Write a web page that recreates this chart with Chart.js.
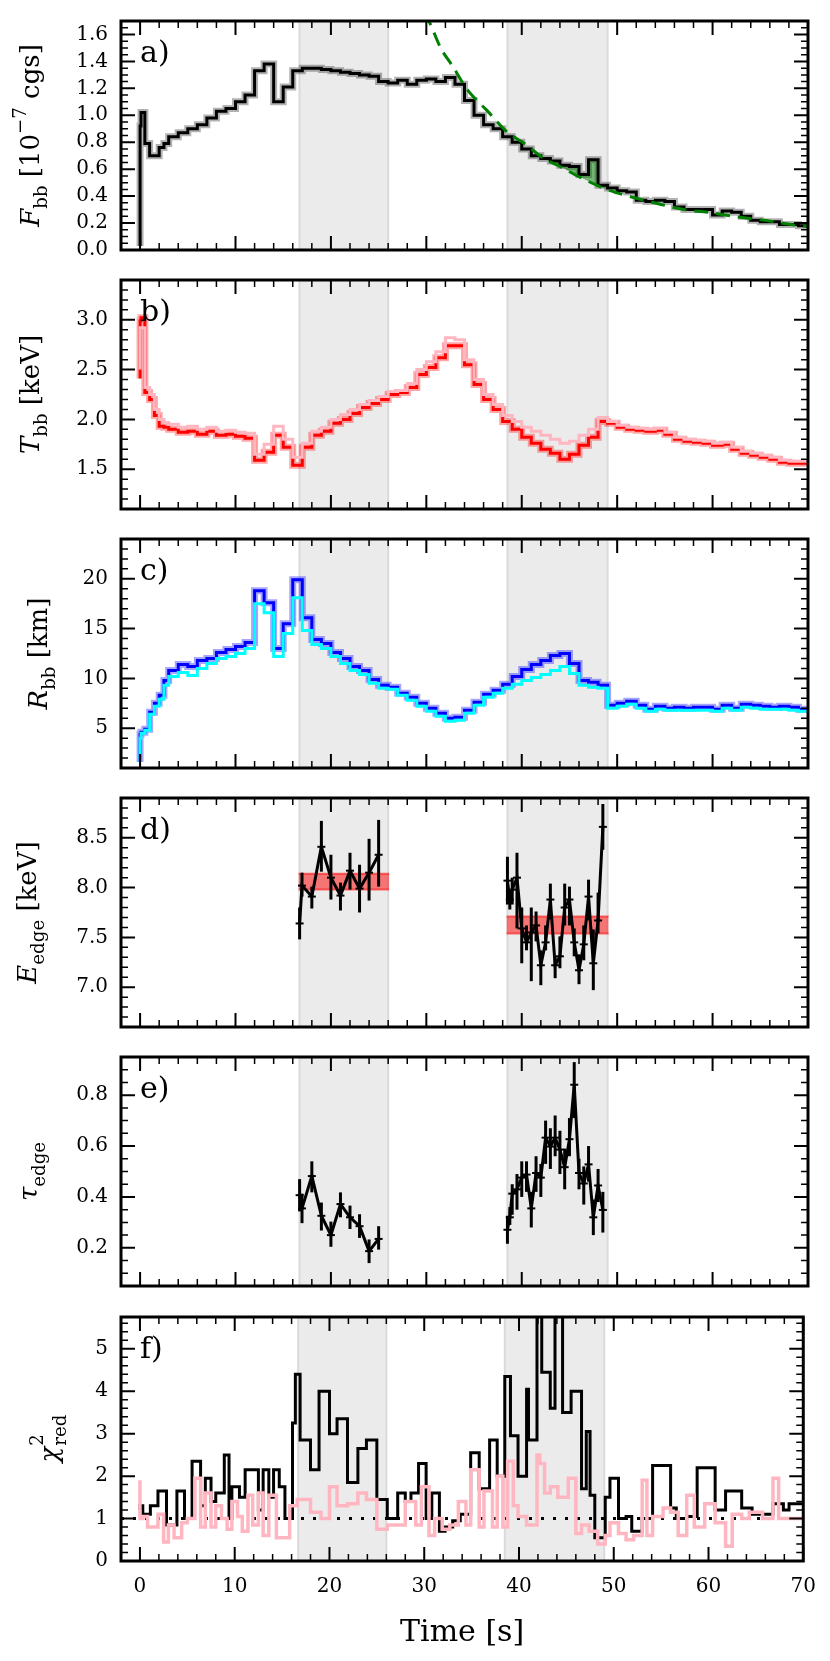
<!DOCTYPE html>
<html>
<head>
<meta charset="utf-8">
<script src="https://cdn.jsdelivr.net/npm/chart.js@4.4.1/dist/chart.umd.min.js"></script>
<style>
  body { margin: 0; background: #fff; }
  #wrap { position: relative; width: 830px; height: 1661px; overflow: hidden; }
  canvas { position: absolute; left: 0; }
</style>
</head>
<body>
<div id="wrap"></div>
<script>
// ---- data ----
const tGrid = [0, 0.1, 0.5, 1, 1.5, 2, 2.5, 3, 4, 5, 6, 7, 8, 9, 10, 11, 12, 13, 14, 15, 16, 17, 18, 19, 20,
  21, 22, 23, 24, 25, 26, 27, 28, 29, 30, 31, 32, 33, 34, 35, 36, 37, 38, 39, 40, 41, 42, 43, 44, 45, 46, 47,
  48, 49, 50, 51, 52, 53, 54, 55, 56, 57, 58, 59, 60, 61, 62, 63, 64, 65, 66, 67, 68, 69, 70];

const fluxBB = [0.03, 0.92, 1.02, 0.79, 0.70, 0.70, 0.76, 0.79, 0.84, 0.87, 0.90, 0.93, 0.98, 1.03, 1.05,
  1.10, 1.15, 1.33, 1.38, 1.10, 1.21, 1.33, 1.35, 1.35, 1.34, 1.33, 1.32, 1.31, 1.30, 1.29, 1.25, 1.24, 1.26,
  1.23, 1.26, 1.27, 1.25, 1.28, 1.23, 1.11, 1.00, 0.93, 0.90, 0.84, 0.80, 0.75, 0.70, 0.68, 0.66, 0.63, 0.62,
  0.56, 0.67, 0.48, 0.46, 0.44, 0.43, 0.37, 0.36, 0.37, 0.36, 0.32, 0.30, 0.30, 0.30, 0.26, 0.29, 0.28, 0.25,
  0.22, 0.21, 0.21, 0.19, 0.19, 0.18];

const fitT = [29.8, 30.4, 31.5, 32.8, 34.2, 35.3, 36.3, 38.4, 40.5, 42.3, 44.0, 46.1, 48.9, 51.7, 54.5, 57.0, 59.5, 62.2, 65.5, 69.2, 70];
const fitF = [1.76, 1.68, 1.50, 1.36, 1.20, 1.11, 1.04, 0.88, 0.78, 0.68, 0.62, 0.54, 0.45, 0.39, 0.34, 0.30, 0.28, 0.25, 0.22, 0.18, 0.175];

const tempBB = [2.41, 2.99, 3.02, 2.27, 2.20, 2.04, 1.93, 1.92, 1.90, 1.87, 1.88, 1.85, 1.88, 1.84, 1.85,
  1.83, 1.81, 1.59, 1.67, 1.84, 1.72, 1.54, 1.72, 1.84, 1.88, 1.96, 2.00, 2.06, 2.12, 2.16, 2.20, 2.25, 2.27,
  2.32, 2.45, 2.52, 2.62, 2.74, 2.74, 2.55, 2.35, 2.20, 2.10, 1.98, 1.90, 1.82, 1.76, 1.70, 1.66, 1.60, 1.65,
  1.74, 1.82, 1.98, 1.96, 1.92, 1.90, 1.89, 1.88, 1.89, 1.85, 1.80, 1.78, 1.77, 1.76, 1.74, 1.75, 1.70, 1.66,
  1.64, 1.62, 1.60, 1.57, 1.56, 1.56];
const tempBBalt = [2.50, 2.92, 2.92, 2.32, 2.25, 2.10, 2.00, 1.97, 1.95, 1.92, 1.93, 1.90, 1.92, 1.88, 1.89,
  1.87, 1.86, 1.65, 1.75, 1.93, 1.80, 1.62, 1.76, 1.88, 1.92, 2.00, 2.05, 2.10, 2.15, 2.19, 2.23, 2.28, 2.29,
  2.36, 2.50, 2.58, 2.68, 2.82, 2.80, 2.60, 2.40, 2.25, 2.15, 2.04, 1.98, 1.92, 1.88, 1.84, 1.80, 1.76, 1.78,
  1.84, 1.90, 2.02, 1.98, 1.94, 1.92, 1.91, 1.90, 1.91, 1.87, 1.82, 1.80, 1.79, 1.78, 1.76, 1.77, 1.72, 1.68,
  1.66, 1.64, 1.62, 1.59, 1.58, 1.58];

const radBB = [1.6, 4.4, 4.6, 4.9, 6.6, 7.5, 8.3, 9.8, 10.8, 11.4, 11.2, 11.8, 12.0, 12.6, 12.9, 13.2, 13.6,
  18.8, 17.6, 13.0, 15.5, 19.9, 16.1, 13.9, 13.5, 12.6, 12.0, 11.2, 10.8, 9.9, 9.3, 9.1, 8.5, 8.1, 7.5, 7.0,
  6.5, 6.0, 6.1, 6.8, 7.6, 8.4, 8.8, 9.4, 10.2, 10.9, 11.4, 11.8, 12.3, 12.5, 11.5, 9.8, 9.6, 9.3, 7.3, 7.5,
  7.7, 7.3, 6.9, 7.2, 7.0, 7.1, 7.0, 7.1, 7.1, 6.9, 7.3, 7.0, 7.4, 7.3, 7.2, 7.1, 7.2, 7.1, 6.9];
const radBBalt = [1.6, 4.0, 4.5, 4.8, 6.4, 7.2, 7.9, 9.3, 10.2, 10.6, 10.3, 11.0, 11.5, 12.0, 12.2, 12.5,
  13.0, 17.5, 16.6, 12.2, 14.5, 18.1, 14.8, 13.4, 13.0, 12.2, 11.5, 10.8, 10.4, 9.5, 9.0, 8.9, 8.3, 7.8, 7.2,
  6.7, 6.2, 5.7, 5.8, 6.5, 7.3, 8.1, 8.5, 9.0, 9.4, 9.8, 10.1, 10.4, 10.8, 11.2, 10.5, 9.3, 9.1, 9.0, 7.0,
  7.2, 7.4, 7.0, 6.7, 6.9, 6.8, 6.8, 6.8, 6.8, 6.8, 6.7, 7.0, 6.8, 7.1, 7.0, 6.9, 6.9, 6.9, 6.8, 6.7];

const edgeTimesA = [16.72, 16.97, 18.0, 19.0, 20.0, 21.0, 22.0, 23.0, 24.0, 25.0];
const edgeTimesB = [38.5, 38.75, 39.0, 39.5, 40.0, 40.5, 41.0, 41.5, 42.0, 42.5, 43.0, 43.5, 44.0, 44.5,
  45.0, 45.5, 46.0, 46.5, 47.0, 47.5, 48.0, 48.5];

const eEdgeA = [7.64, 8.02, 7.91, 8.41, 8.10, 7.92, 8.17, 7.99, 8.15, 8.33];
const eEdgeALo = [7.48, 7.91, 7.79, 8.16, 7.88, 7.77, 7.98, 7.75, 7.87, 8.01];
const eEdgeAHi = [7.80, 8.15, 8.01, 8.67, 8.33, 8.05, 8.35, 8.23, 8.49, 8.68];
const eEdgeB = [8.07, 7.88, 7.98, 8.10, 7.59, 7.45, 7.55, 7.62, 7.22, 7.45, 7.88, 7.22, 7.31, 7.80, 7.88,
  7.45, 7.17, 7.43, 7.91, 7.24, 7.67, 8.61];
const eEdgeBLo = [7.83, 7.78, 7.83, 7.59, 7.24, 7.37, 7.06, 7.46, 7.02, 7.37, 7.68, 7.09, 7.19, 7.62, 7.62,
  7.31, 7.03, 7.27, 7.67, 6.97, 7.54, 8.38];
const eEdgeBHi = [8.31, 7.98, 8.10, 8.35, 7.80, 7.62, 7.80, 7.76, 7.37, 7.62, 8.04, 7.31, 7.51, 8.04, 8.01,
  7.59, 7.33, 7.62, 8.08, 7.58, 7.95, 8.84];

const bandStart = [16.6, 38.4];
const bandEnd = [26.1, 49.1];
const bandLo = [7.98, 7.54];
const bandHi = [8.14, 7.71];

const tauA = [0.407, 0.355, 0.482, 0.326, 0.250, 0.372, 0.320, 0.285, 0.187, 0.235];
const tauALo = [0.343, 0.297, 0.418, 0.268, 0.204, 0.320, 0.274, 0.239, 0.140, 0.193];
const tauAHi = [0.470, 0.413, 0.540, 0.378, 0.303, 0.418, 0.366, 0.332, 0.233, 0.285];
const tauB = [0.271, 0.320, 0.413, 0.430, 0.476, 0.488, 0.355, 0.494, 0.476, 0.633, 0.598, 0.633, 0.586,
  0.517, 0.627, 0.841, 0.494, 0.453, 0.528, 0.320, 0.445, 0.349];
const tauBLo = [0.216, 0.290, 0.330, 0.350, 0.400, 0.420, 0.280, 0.420, 0.400, 0.530, 0.510, 0.560, 0.490,
  0.430, 0.560, 0.710, 0.430, 0.370, 0.460, 0.250, 0.380, 0.260];
const tauBHi = [0.326, 0.360, 0.450, 0.490, 0.540, 0.540, 0.420, 0.560, 0.530, 0.700, 0.670, 0.720, 0.660,
  0.590, 0.710, 0.930, 0.550, 0.520, 0.600, 0.390, 0.510, 0.420];

const chiT = [0, 0.3, 1.1, 1.9, 2.8, 3.9, 4.7, 5.5, 6.4, 6.9, 7.5, 8.0, 8.9, 9.4, 9.7, 10.5, 11.1, 12.5, 13.0,
  13.6, 14.1, 14.7, 15.3, 16.1, 16.4, 16.9, 18.0, 18.9, 20.0, 20.8, 21.9, 23.0, 23.9, 25.0, 26.1, 27.2, 28.0,
  28.6, 29.4, 30.2, 30.8, 31.6, 32.2, 33.0, 33.8, 34.9, 35.8, 36.9, 37.7, 38.5, 39.1, 39.9, 40.8, 41.0, 41.9,
  42.4, 43.3, 43.8, 44.6, 45.5, 46.6, 47.1, 47.5, 48.0, 49.1, 49.6, 50.5, 51.3, 51.9, 53.0, 54.1, 56.0, 56.6,
  57.7, 58.8, 60.7, 61.8, 63.5, 64.6, 66.8, 67.9, 68.5, 69.3, 70.0];
const chi = [1.2, 1.3, 1.1, 1.3, 1.65, 0.85, 1.65, 1.0, 2.35, 1.3, 1.95, 1.4, 1.6, 2.5, 1.0, 1.75, 1.5, 2.15,
  1.2, 2.15, 1.5, 2.15, 1.75, 1.0, 3.25, 4.4, 2.85, 2.15, 4.0, 3.0, 3.35, 1.85, 2.65, 2.85, 1.45, 1.0, 1.6, 1.4,
  1.6, 2.3, 1.0, 1.6, 0.7, 0.8, 0.95, 1.1, 2.55, 1.7, 2.85, 2.0, 4.35, 2.95, 2.0, 4.05, 2.85, 6.0, 4.45, 3.6,
  6.0, 3.5, 4.0, 1.7, 3.05, 1.55, 0.55, 1.5, 1.95, 1.0, 1.05, 0.7, 1.0, 2.25, 1.25, 1.0, 1.05, 2.2, 1.2, 1.65,
  1.25, 1.1, 1.35, 1.2, 1.35, 1.35];
const chiAltT = [0, 0.3, 0.8, 1.9, 2.5, 3.0, 3.6, 4.4, 5.0, 5.8, 6.4, 6.9, 7.5, 8.0, 8.6, 9.2, 9.7, 10.3, 10.8,
  11.4, 11.9, 12.5, 13.0, 13.6, 14.4, 15.8, 16.6, 18.0, 19.1, 20.0, 20.8, 21.9, 23.0, 23.9, 25.0, 26.1, 28.0,
  29.1, 29.7, 30.5, 31.1, 31.9, 32.7, 33.6, 34.4, 34.9, 35.8, 36.3, 37.2, 37.7, 38.3, 38.8, 39.4, 39.9, 40.8,
  41.9, 42.2, 42.7, 43.3, 44.1, 45.2, 46.0, 46.6, 47.4, 48.3, 49.1, 49.6, 50.5, 51.3, 52.1, 53.0, 53.5, 54.1,
  55.2, 56.0, 56.8, 57.7, 58.5, 59.6, 60.7, 61.8, 62.5, 63.5, 64.3, 65.7, 66.8, 67.4, 68.5, 70.0];
const chiAlt = [1.9, 1.0, 1.05, 0.8, 1.1, 0.45, 0.85, 0.55, 0.9, 1.0, 1.95, 0.8, 1.6, 0.8, 1.3, 1.0, 0.75, 1.4,
  1.05, 0.7, 1.55, 0.85, 1.6, 0.6, 1.55, 0.55, 1.3, 1.45, 1.15, 1.0, 1.75, 1.3, 1.35, 1.6, 1.45, 0.75, 0.85,
  1.4, 0.85, 1.75, 0.6, 1.0, 0.75, 0.85, 1.4, 0.85, 2.15, 0.8, 1.65, 0.8, 2.0, 0.8, 2.35, 1.3, 1.05, 0.85, 2.5,
  2.3, 1.6, 1.75, 1.5, 1.95, 0.65, 0.85, 0.7, 0.4, 0.6, 0.9, 0.65, 0.5, 0.6, 1.9, 0.6, 1.05, 1.25, 1.15, 0.6,
  1.55, 0.8, 1.35, 0.9, 0.35, 1.1, 1.0, 1.15, 1.0, 1.95, 1.0, 1.0];
const chiRefT = [-2, 70];
const chiRef = [1, 1];

const spanStart = [16.7, 38.5];
const spanEnd = [26.0, 49.0];

const xTicks = [0, 10, 20, 30, 40, 50, 60, 70];
const yTicksA = [0, 0.2, 0.4, 0.6, 0.8, 1.0, 1.2, 1.4, 1.6];
const yTicksB = [1.5, 2.0, 2.5, 3.0];
const yTicksC = [5, 10, 15, 20];
const yTicksD = [7.0, 7.5, 8.0, 8.5];
const yTicksE = [0.2, 0.4, 0.6, 0.8];
const yTicksF = [0, 1, 2, 3, 4, 5];

// ---- layout ----
const PLOT_L = 121, PLOT_R = 808, PANEL_H = 259;
const panelTop = [6, 265, 524, 783, 1042, 1302];
const FONT = '"DejaVu Serif", serif';
Chart.defaults.font.family = FONT;
Chart.defaults.color = '#000';

function pts(xs, ys) { return xs.map((x, i) => ({x: x, y: ys[i]})); }

// rotated axis title with sub/superscripts
function drawMath(ctx, parts, bx, cy, size) {
  ctx.save();
  ctx.translate(bx, cy);
  ctx.rotate(-Math.PI / 2);
  ctx.textBaseline = 'alphabetic';
  ctx.textAlign = 'left';
  ctx.fillStyle = '#000';
  const fnt = (it, s) => (it ? 'italic ' : '') + s + 'px ' + FONT;
  let total = 0;
  const items = parts.map(p => {
    if (p.stack) {
      ctx.font = fnt(false, size * 0.7);
      const w = Math.max(...p.stack.map(s => ctx.measureText(s).width));
      total += w;
      return {p: p, w: w};
    }
    const s = (p.sub || p.sup) ? size * 0.7 : size;
    ctx.font = fnt(p.it, s);
    const w = ctx.measureText(p.t).width;
    total += w;
    return {p: p, w: w, s: s};
  });
  let x = -total / 2;
  items.forEach(it => {
    const p = it.p;
    if (p.stack) {
      ctx.font = fnt(false, size * 0.7);
      ctx.fillText(p.stack[0], x + 1, -size * 0.58);
      ctx.fillText(p.stack[1], x + 1, size * 0.3);
    } else {
      ctx.font = fnt(p.it, it.s);
      const dy = p.sub ? size * 0.3 : (p.sup ? -size * 0.5 : 0);
      ctx.fillText(p.t, x, dy);
    }
    x += it.w;
  });
  ctx.restore();
}

const panelPlugin = {
  id: 'panel',
  beforeDatasetsDraw(chart) {
    const {ctx, chartArea: a, scales: {x}} = chart;
    ctx.save();
    spanStart.forEach((s, i) => {
      const x0 = x.getPixelForValue(s), x1 = x.getPixelForValue(spanEnd[i]);
      ctx.fillStyle = '#ebebeb';
      ctx.fillRect(x0, a.top, x1 - x0, a.bottom - a.top);
      ctx.strokeStyle = '#dadada';
      ctx.lineWidth = 2;
      [x0, x1].forEach(px => {
        ctx.beginPath(); ctx.moveTo(px, a.top); ctx.lineTo(px, a.bottom); ctx.stroke();
      });
    });
    ctx.restore();
  },
  afterDatasetsDraw(chart) {
    const cfg = chart.canvas.$panel;
    const {ctx, scales: {y}} = chart;
    ctx.save();
    (cfg.errors || []).forEach(e => {
      const meta = chart.getDatasetMeta(e.ds);
      ctx.strokeStyle = '#000';
      ctx.lineWidth = 3;
      meta.data.forEach((p, j) => {
        ctx.beginPath();
        ctx.moveTo(p.x, y.getPixelForValue(e.lo[j]));
        ctx.lineTo(p.x, y.getPixelForValue(e.hi[j]));
        ctx.stroke();
      });
    });
    ctx.restore();
  },
  afterDraw(chart) {
    const cfg = chart.canvas.$panel;
    const {ctx, chartArea: a, scales: {x, y}} = chart;
    ctx.save();
    ctx.strokeStyle = '#000';
    // x ticks, top and bottom, pointing in
    for (let v = -2; v <= 70; v += 2) {
      const major = xTicks.includes(v);
      const len = major ? 14 : 7;
      const px = x.getPixelForValue(v);
      ctx.lineWidth = major ? 2 : 1.5;
      ctx.beginPath();
      ctx.moveTo(px, a.bottom); ctx.lineTo(px, a.bottom - len);
      ctx.moveTo(px, a.top); ctx.lineTo(px, a.top + len);
      ctx.stroke();
    }
    // y ticks, left and right
    const k0 = Math.ceil(y.min / cfg.minor - 1e-6), k1 = Math.floor(y.max / cfg.minor + 1e-6);
    for (let k = k0; k <= k1; k++) {
      const v = k * cfg.minor;
      const major = cfg.ticks.some(t => Math.abs(t - v) < cfg.minor / 10);
      const len = major ? 14 : 7;
      const py = y.getPixelForValue(v);
      ctx.lineWidth = major ? 2 : 1.5;
      ctx.beginPath();
      ctx.moveTo(a.left, py); ctx.lineTo(a.left + len, py);
      ctx.moveTo(a.right, py); ctx.lineTo(a.right - len, py);
      ctx.stroke();
    }
    ctx.lineWidth = 3;
    ctx.strokeRect(a.left, a.top, a.right - a.left, a.bottom - a.top);
    // panel letter
    ctx.fillStyle = '#000';
    ctx.font = '30px ' + FONT;
    ctx.textAlign = 'left';
    ctx.textBaseline = 'alphabetic';
    ctx.fillText(cfg.letter, a.left + 19, a.top + 41);
    ctx.restore();
    drawMath(ctx, cfg.title, cfg.titleX, (a.top + a.bottom) / 2, 26);
    if (cfg.xTitle) {
      ctx.save();
      ctx.font = '30px ' + FONT;
      ctx.fillStyle = '#000';
      ctx.textAlign = 'center';
      ctx.textBaseline = 'middle';
      ctx.fillText(cfg.xTitle, (a.left + a.right) / 2, a.bottom + 72);
      ctx.restore();
    }
  }
};

const wrap = document.getElementById('wrap');

function makePanel(i, datasets, cfg) {
  const last = i === panelTop.length - 1;
  const c = document.createElement('canvas');
  const top = panelTop[i] - 10;
  const h = last ? 1661 - top : PANEL_H + 20;
  c.width = 830; c.height = h;
  c.style.width = '830px'; c.style.height = h + 'px';
  c.style.top = top + 'px';
  c.$panel = cfg;
  wrap.appendChild(c);
  return new Chart(c, {
    type: 'line',
    data: {datasets: datasets},
    options: {
      responsive: false,
      animation: false,
      events: [],
      layout: {padding: {left: 0, right: 830 - PLOT_R, top: 10, bottom: last ? 0 : 10}},
      plugins: {legend: {display: false}, tooltip: {enabled: false}},
      elements: {point: {radius: 0}, line: {tension: 0}},
      scales: {
        x: {
          type: 'linear', min: -2, max: 70, display: last,
          grid: {display: false, drawTicks: false}, border: {display: false},
          ticks: {font: {size: 20}, padding: 14, color: '#000', maxRotation: 0},
          afterBuildTicks: s => { s.ticks = xTicks.map(v => ({value: v})); },
          afterFit: s => { s.height = last ? 100 : 0; }
        },
        y: {
          type: 'linear', min: cfg.min, max: cfg.max,
          grid: {display: false, drawTicks: false}, border: {display: false},
          ticks: {font: {size: 20}, padding: 13, color: '#000', callback: v => v.toFixed(cfg.dec)},
          afterBuildTicks: s => { s.ticks = cfg.ticks.map(v => ({value: v})); },
          afterFit: s => { s.width = PLOT_L; }
        }
      }
    },
    plugins: [panelPlugin]
  });
}

const stepLine = (data, color, width) => ({data: data, borderColor: color, borderWidth: width, stepped: 'after', fill: false, pointRadius: 0});
const errLine = (data) => ({data: data, borderColor: '#000', borderWidth: 3, fill: false,
  pointStyle: 'line', pointRadius: 4, pointBorderWidth: 2, pointBorderColor: '#000'});

// a) flux
const fluxFill = pts(tGrid, fluxBB).filter(p => p.x >= 34 && p.x <= 49);
makePanel(0, [
  {data: pts(fitT, fitF), borderColor: '#008000', borderWidth: 3, borderDash: [14, 8], cubicInterpolationMode: 'monotone', fill: false, pointRadius: 0},
  stepLine(pts(tGrid, fluxBB), '#000', 3),
  {data: fluxFill, borderWidth: 0, borderColor: 'rgba(0,0,0,0)', stepped: 'after', pointRadius: 0,
    fill: {target: 0, above: 'rgba(0,128,0,0.5)', below: 'rgba(0,0,0,0)'}},
  stepLine(pts(tGrid, fluxBB), 'rgba(0,0,0,0.3)', 7)
], {min: 0, max: 1.7, ticks: yTicksA, minor: 0.05, dec: 1, letter: 'a)', titleX: 39,
  title: [{t: 'F', it: true}, {t: 'bb', sub: true}, {t: ' [10'}, {t: '\u22127', sup: true}, {t: ' cgs]'}]});

// b) temperature
makePanel(1, [
  stepLine(pts(tGrid, tempBBalt), '#ffb6c1', 3),
  stepLine(pts(tGrid, tempBB), '#ff0000', 3),
  stepLine(pts(tGrid, tempBB), 'rgba(255,0,0,0.35)', 7)
], {min: 1.1, max: 3.4, ticks: yTicksB, minor: 0.1, dec: 1, letter: 'b)', titleX: 39,
  title: [{t: 'T', it: true}, {t: 'bb', sub: true}, {t: ' [keV]'}]});

// c) radius
makePanel(2, [
  stepLine(pts(tGrid, radBBalt), '#00ffff', 3),
  stepLine(pts(tGrid, radBB), '#0000ff', 3),
  stepLine(pts(tGrid, radBB), 'rgba(0,0,255,0.35)', 7)
], {min: 1, max: 24, ticks: yTicksC, minor: 1, dec: 0, letter: 'c)', titleX: 47,
  title: [{t: 'R', it: true}, {t: 'bb', sub: true}, {t: ' [km]'}]});

// d) edge energy
const bandSets = [];
bandStart.forEach((s, i) => {
  bandSets.push({data: pts([s, bandEnd[i]], [bandHi[i], bandHi[i]]), borderColor: 'rgba(255,0,0,0.55)', borderWidth: 2,
    backgroundColor: 'rgba(255,0,0,0.5)', fill: '+1', pointRadius: 0});
  bandSets.push({data: pts([s, bandEnd[i]], [bandLo[i], bandLo[i]]), borderColor: 'rgba(255,0,0,0.55)', borderWidth: 2,
    fill: false, pointRadius: 0});
});
makePanel(3, [errLine(pts(edgeTimesA, eEdgeA)), errLine(pts(edgeTimesB, eEdgeB))].concat(bandSets),
  {min: 6.6, max: 8.9, ticks: yTicksD, minor: 0.1, dec: 1, letter: 'd)', titleX: 36,
   title: [{t: 'E', it: true}, {t: 'edge', sub: true}, {t: ' [keV]'}],
   errors: [{ds: 0, lo: eEdgeALo, hi: eEdgeAHi}, {ds: 1, lo: eEdgeBLo, hi: eEdgeBHi}]});

// e) optical depth
makePanel(4, [errLine(pts(edgeTimesA, tauA)), errLine(pts(edgeTimesB, tauB))],
  {min: 0.05, max: 0.95, ticks: yTicksE, minor: 0.05, dec: 1, letter: 'e)', titleX: 37,
   title: [{t: '\u03c4', it: true}, {t: 'edge', sub: true}],
   errors: [{ds: 0, lo: tauALo, hi: tauAHi}, {ds: 1, lo: tauBLo, hi: tauBHi}]});

// f) reduced chi^2
makePanel(5, [
  stepLine(pts(chiAltT, chiAlt), '#ffb6c1', 3.5),
  stepLine(pts(chiT, chi), '#000', 3),
  {data: pts(chiRefT, chiRef), borderColor: '#000', borderWidth: 3, borderDash: [3, 9], fill: false, pointRadius: 0}
], {min: 0, max: 5.75, ticks: yTicksF, minor: 0.2, dec: 0, letter: 'f)', titleX: 58,
  title: [{t: '\u03c7', it: true}, {stack: ['2', 'red']}], xTitle: 'Time [s]'});
</script>
</body>
</html>
